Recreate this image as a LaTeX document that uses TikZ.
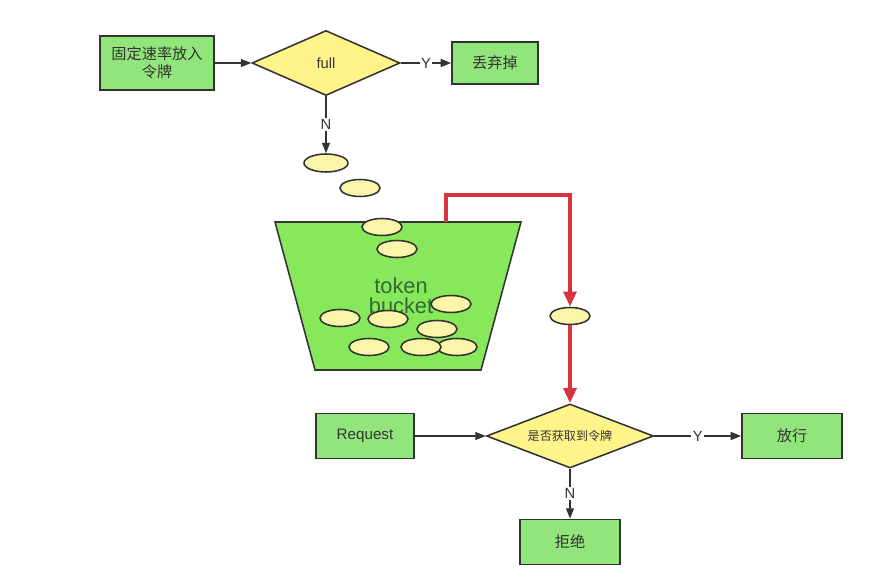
\documentclass[tikz,border=0pt]{standalone}
\usepackage{fontspec}
\setmainfont{Liberation Sans}
\newfontfamily\cjk{Noto Sans CJK SC}
\usetikzlibrary{arrows.meta,positioning,shapes.geometric}
\definecolor{BoxGreen}{RGB}{146, 229, 122}
\definecolor{BucketGreen}{RGB}{134, 232, 90}
\definecolor{DiaYellow}{RGB}{255, 244, 138}
\definecolor{TokYellow}{RGB}{250, 245, 168}
\definecolor{LineDark}{RGB}{51, 51, 51}
\definecolor{TapRed}{RGB}{217, 52, 62}
\definecolor{BucketText}{RGB}{52, 105, 52}

\begin{document}
\begin{tikzpicture}[x=0.025cm, y=-0.025cm,
        box/.style={draw=LineDark, fill=BoxGreen, line width=1.2pt, align=center, font=\cjk\fontsize{10.8}{13}\selectfont, text=LineDark, inner sep=2pt, minimum width=2.5cm, minimum height=1.125cm},
        dia/.style={diamond, draw=LineDark, fill=DiaYellow, line width=1.1pt, inner sep=0pt, font=\fontsize{10.5}{12}\selectfont, text=LineDark},
        tok/.style={ellipse, draw=LineDark, fill=TokYellow, line width=1.1pt, inner sep=0pt, minimum width=1.0cm, minimum height=0.425cm},
        arr/.style={-{Triangle[length=2.6mm, width=2mm]}, line width=0.9pt, color=LineDark},
        lbl/.style={fill=white, inner sep=1pt, font=\fontsize{10.5}{12}\selectfont, text=LineDark},
        red/.style={-{Triangle[length=3.8mm, width=3.2mm]}, line width=3.2pt, color=TapRed}]
        \useasboundingbox (0,0) rectangle (882,571);

        % top: filling the bucket
        \node[box, minimum width=2.85cm, minimum height=1.35cm] (rate) at (157,63) {固定速率放入\\令牌};
        \node[dia, shape aspect=2.3, minimum width=3.7cm, minimum height=1.625cm] (full) at (326,63) {full};
        \node[box, minimum width=2.15cm, minimum height=1.05cm] (drop) at (495,63) {丢弃掉};
        \node[tok, minimum width=1.1cm, minimum height=0.45cm] (t0) at (326,163) {};
        \node[tok] (t1) at (360,188) {};

        \draw[arr] (rate) -- (full);
        \draw[arr] (full) -- node[lbl] {Y} (drop);
        \draw[arr] (full) -- node[lbl] {N} (t0);

        % the bucket
        \draw[fill=BucketGreen, draw=LineDark, line width=1.1pt] (275,222) -- (521,222) -- (481,370) -- (315,370) -- cycle;
        \node[font=\fontsize{15.5}{17}\selectfont, text=BucketText, align=center, inner sep=0pt] (bucket) at (401,296) {token\\[-3pt]bucket};
        \coordinate (tap) at (446,222);
        \foreach \x/\y [count=\i from 2] in {382/227, 397/249, 451/304, 340/318, 388/319, 437/329, 369/347, 457/347, 421/347}
          \node[tok] (t\i) at (\x,\y) {};

        % bottom: request handling
        \node[box, minimum width=2.45cm, font=\fontsize{10.8}{13}\selectfont] (req) at (365,436) {Request};
        \node[dia, shape aspect=2.6, font=\cjk\fontsize{8.6}{10}\selectfont, minimum width=4.175cm, minimum height=1.6cm] (get) at (570,436) {是否获取到令牌};
        \node[box] (pass) at (792,436) {放行};
        \node[box] (deny) at (570,542) {拒绝};
        \node[tok] (tk) at (570,316) {};

        \draw[red] (tap) -- (446,195) -- (570,195) -- (tk);
        \draw[red] (tk) -- (get);
        \draw[arr] (req) -- (get);
        \draw[arr] (get) -- node[lbl] {Y} (pass);
        \draw[arr] (get) -- node[lbl] {N} (deny);
      \end{tikzpicture}
\end{document}
